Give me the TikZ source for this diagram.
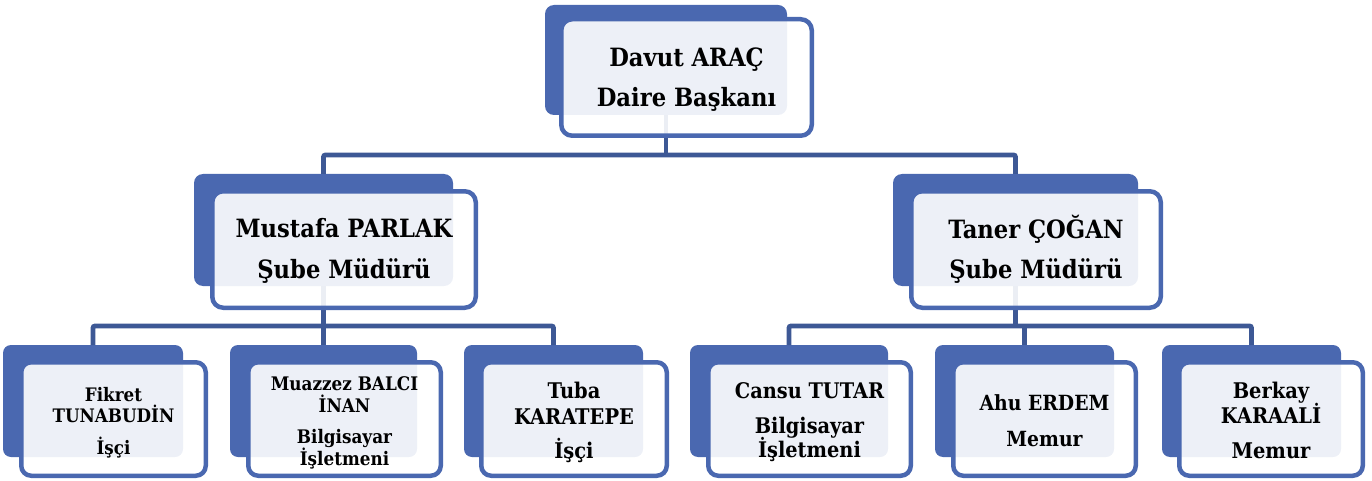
\documentclass[tikz,border=0pt]{standalone}
\usepackage{fontspec}
\setmainfont{DejaVu Serif Condensed}
\definecolor{boxblue}{HTML}{4A68B0}
\definecolor{lineblue}{HTML}{3D5895}
\newcommand\myfs[1]{\fontsize{#1}{#1}\selectfont\bfseries}
\tikzset{
  darkbox/.style={rectangle, rounded corners=9pt, fill=boxblue, draw=none, inner sep=0pt, outer sep=0pt},
  frontbox/.style={rectangle, rounded corners=11pt, fill=white, fill opacity=0.9, draw=boxblue, draw opacity=1, line width=4.5pt, inner sep=0pt},
  conn/.style={draw=lineblue, line width=4.8pt, rounded corners=2pt},
  txt/.style={anchor=base, inner sep=0pt, text=black}
}
\begin{document}
\begin{tikzpicture}[x=1pt,y=-1pt]
\useasboundingbox (0,0) rectangle (1372,481);
% back boxes
\node[darkbox, minimum width=242pt, minimum height=110pt] (top) at (666,60) {};
\node[darkbox, minimum width=259pt, minimum height=112pt] (must) at (323.5,230) {};
\node[darkbox, minimum width=245pt, minimum height=112pt] (taner) at (1015.5,230) {};
\node[darkbox, rounded corners=8pt, minimum width=180pt, minimum height=112pt] (fik) at (93,401) {};
\node[darkbox, rounded corners=8pt, minimum width=187pt, minimum height=112pt] (muaz) at (323.5,401) {};
\node[darkbox, rounded corners=8pt, minimum width=179pt, minimum height=112pt] (tuba) at (553.5,401) {};
\node[darkbox, rounded corners=8pt, minimum width=198pt, minimum height=112pt] (cansu) at (789,401) {};
\node[darkbox, rounded corners=8pt, minimum width=179pt, minimum height=112pt] (ahu) at (1024.5,401) {};
\node[darkbox, rounded corners=8pt, minimum width=179pt, minimum height=112pt] (berk) at (1251.5,401) {};
% connectors
\coordinate (b1) at (666,155);
\coordinate (b2) at (323.5,326);
\coordinate (b3) at (1015.5,326);
\draw[conn] (top.south) -- (b1);
\draw[conn] (must.north) |- (b1) -| (taner.north);
\draw[conn] (must.south) -- (b2);
\draw[conn] (fik.north) |- (b2) -| (tuba.north);
\draw[conn] (b2) -- (muaz.north);
\draw[conn] (taner.south) -- (b3);
\draw[conn] (cansu.north) |- (b3) -| (berk.north);
\draw[conn] (ahu.north |- b3) -- (ahu.north);
% front boxes
\node[frontbox, minimum width=250.5pt, minimum height=116.5pt] (topf) at (686.5,77.5) {};
\node[frontbox, minimum width=263.5pt, minimum height=116.5pt] (mustf) at (344,249.5) {};
\node[frontbox, minimum width=249.5pt, minimum height=116.5pt] (tanerf) at (1036,249.5) {};
\node[frontbox, rounded corners=10pt, minimum width=184.5pt, minimum height=113.5pt] (fikf) at (113.5,419) {};
\node[frontbox, rounded corners=10pt, minimum width=192.5pt, minimum height=113.5pt] (muazf) at (344.5,419) {};
\node[frontbox, rounded corners=10pt, minimum width=185.5pt, minimum height=113.5pt] (tubaf) at (574,419) {};
\node[frontbox, rounded corners=10pt, minimum width=202.5pt, minimum height=113.5pt] (cansuf) at (809.5,419) {};
\node[frontbox, rounded corners=10pt, minimum width=182.5pt, minimum height=113.5pt] (ahuf) at (1044.5,419) {};
\node[frontbox, rounded corners=10pt, minimum width=183.5pt, minimum height=113.5pt] (berkf) at (1271,419) {};
% texts
\node[txt, font=\myfs{25.2}] (t1a) at (686.5,67) {Davut ARAÇ};
\node[txt, font=\myfs{25.2}] (t1b) at (686.5,107) {Daire Başkanı};
\node[txt, font=\myfs{25.2}] (t2a) at (344,237) {Mustafa PARLAK};
\node[txt, font=\myfs{25.2}] (t2b) at (344,278) {Şube Müdürü};
\node[txt, font=\myfs{25.2}] (t3a) at (1036,238) {Taner ÇOĞAN};
\node[txt, font=\myfs{25.2}] (t3b) at (1036,278) {Şube Müdürü};
\node[txt, font=\myfs{18.6}] (t4a) at (113.5,401) {Fikret};
\node[txt, font=\myfs{18.6}] (t4b) at (113.5,422) {TUNABUDİN};
\node[txt, font=\myfs{18.6}] (t4c) at (113.5,454) {İşçi};
\node[txt, font=\myfs{18.7}] (t5a) at (344.5,390) {Muazzez BALCI};
\node[txt, font=\myfs{18.7}] (t5b) at (344.5,412) {İNAN};
\node[txt, font=\myfs{18.7}] (t5c) at (344.5,443) {Bilgisayar};
\node[txt, font=\myfs{18.7}] (t5d) at (344.5,465) {İşletmeni};
\node[txt, font=\myfs{21.6}] (t6a) at (574,398) {Tuba};
\node[txt, font=\myfs{21.6}] (t6b) at (574,424) {KARATEPE};
\node[txt, font=\myfs{21.6}] (t6c) at (574,458) {İşçi};
\node[txt, font=\myfs{21.5}] (t7a) at (809.5,398) {Cansu TUTAR};
\node[txt, font=\myfs{21.5}] (t7b) at (809.5,433) {Bilgisayar};
\node[txt, font=\myfs{21.5}] (t7c) at (809.5,457) {İşletmeni};
\node[txt, font=\myfs{20.9}] (t8a) at (1044.5,410) {Ahu ERDEM};
\node[txt, font=\myfs{20.9}] (t8b) at (1044.5,446) {Memur};
\node[txt, font=\myfs{21.6}] (t9a) at (1271,398) {Berkay};
\node[txt, font=\myfs{21.6}] (t9b) at (1271,423) {KARAALİ};
\node[txt, font=\myfs{21.6}] (t9c) at (1271,458) {Memur};
\end{tikzpicture}
\end{document}
